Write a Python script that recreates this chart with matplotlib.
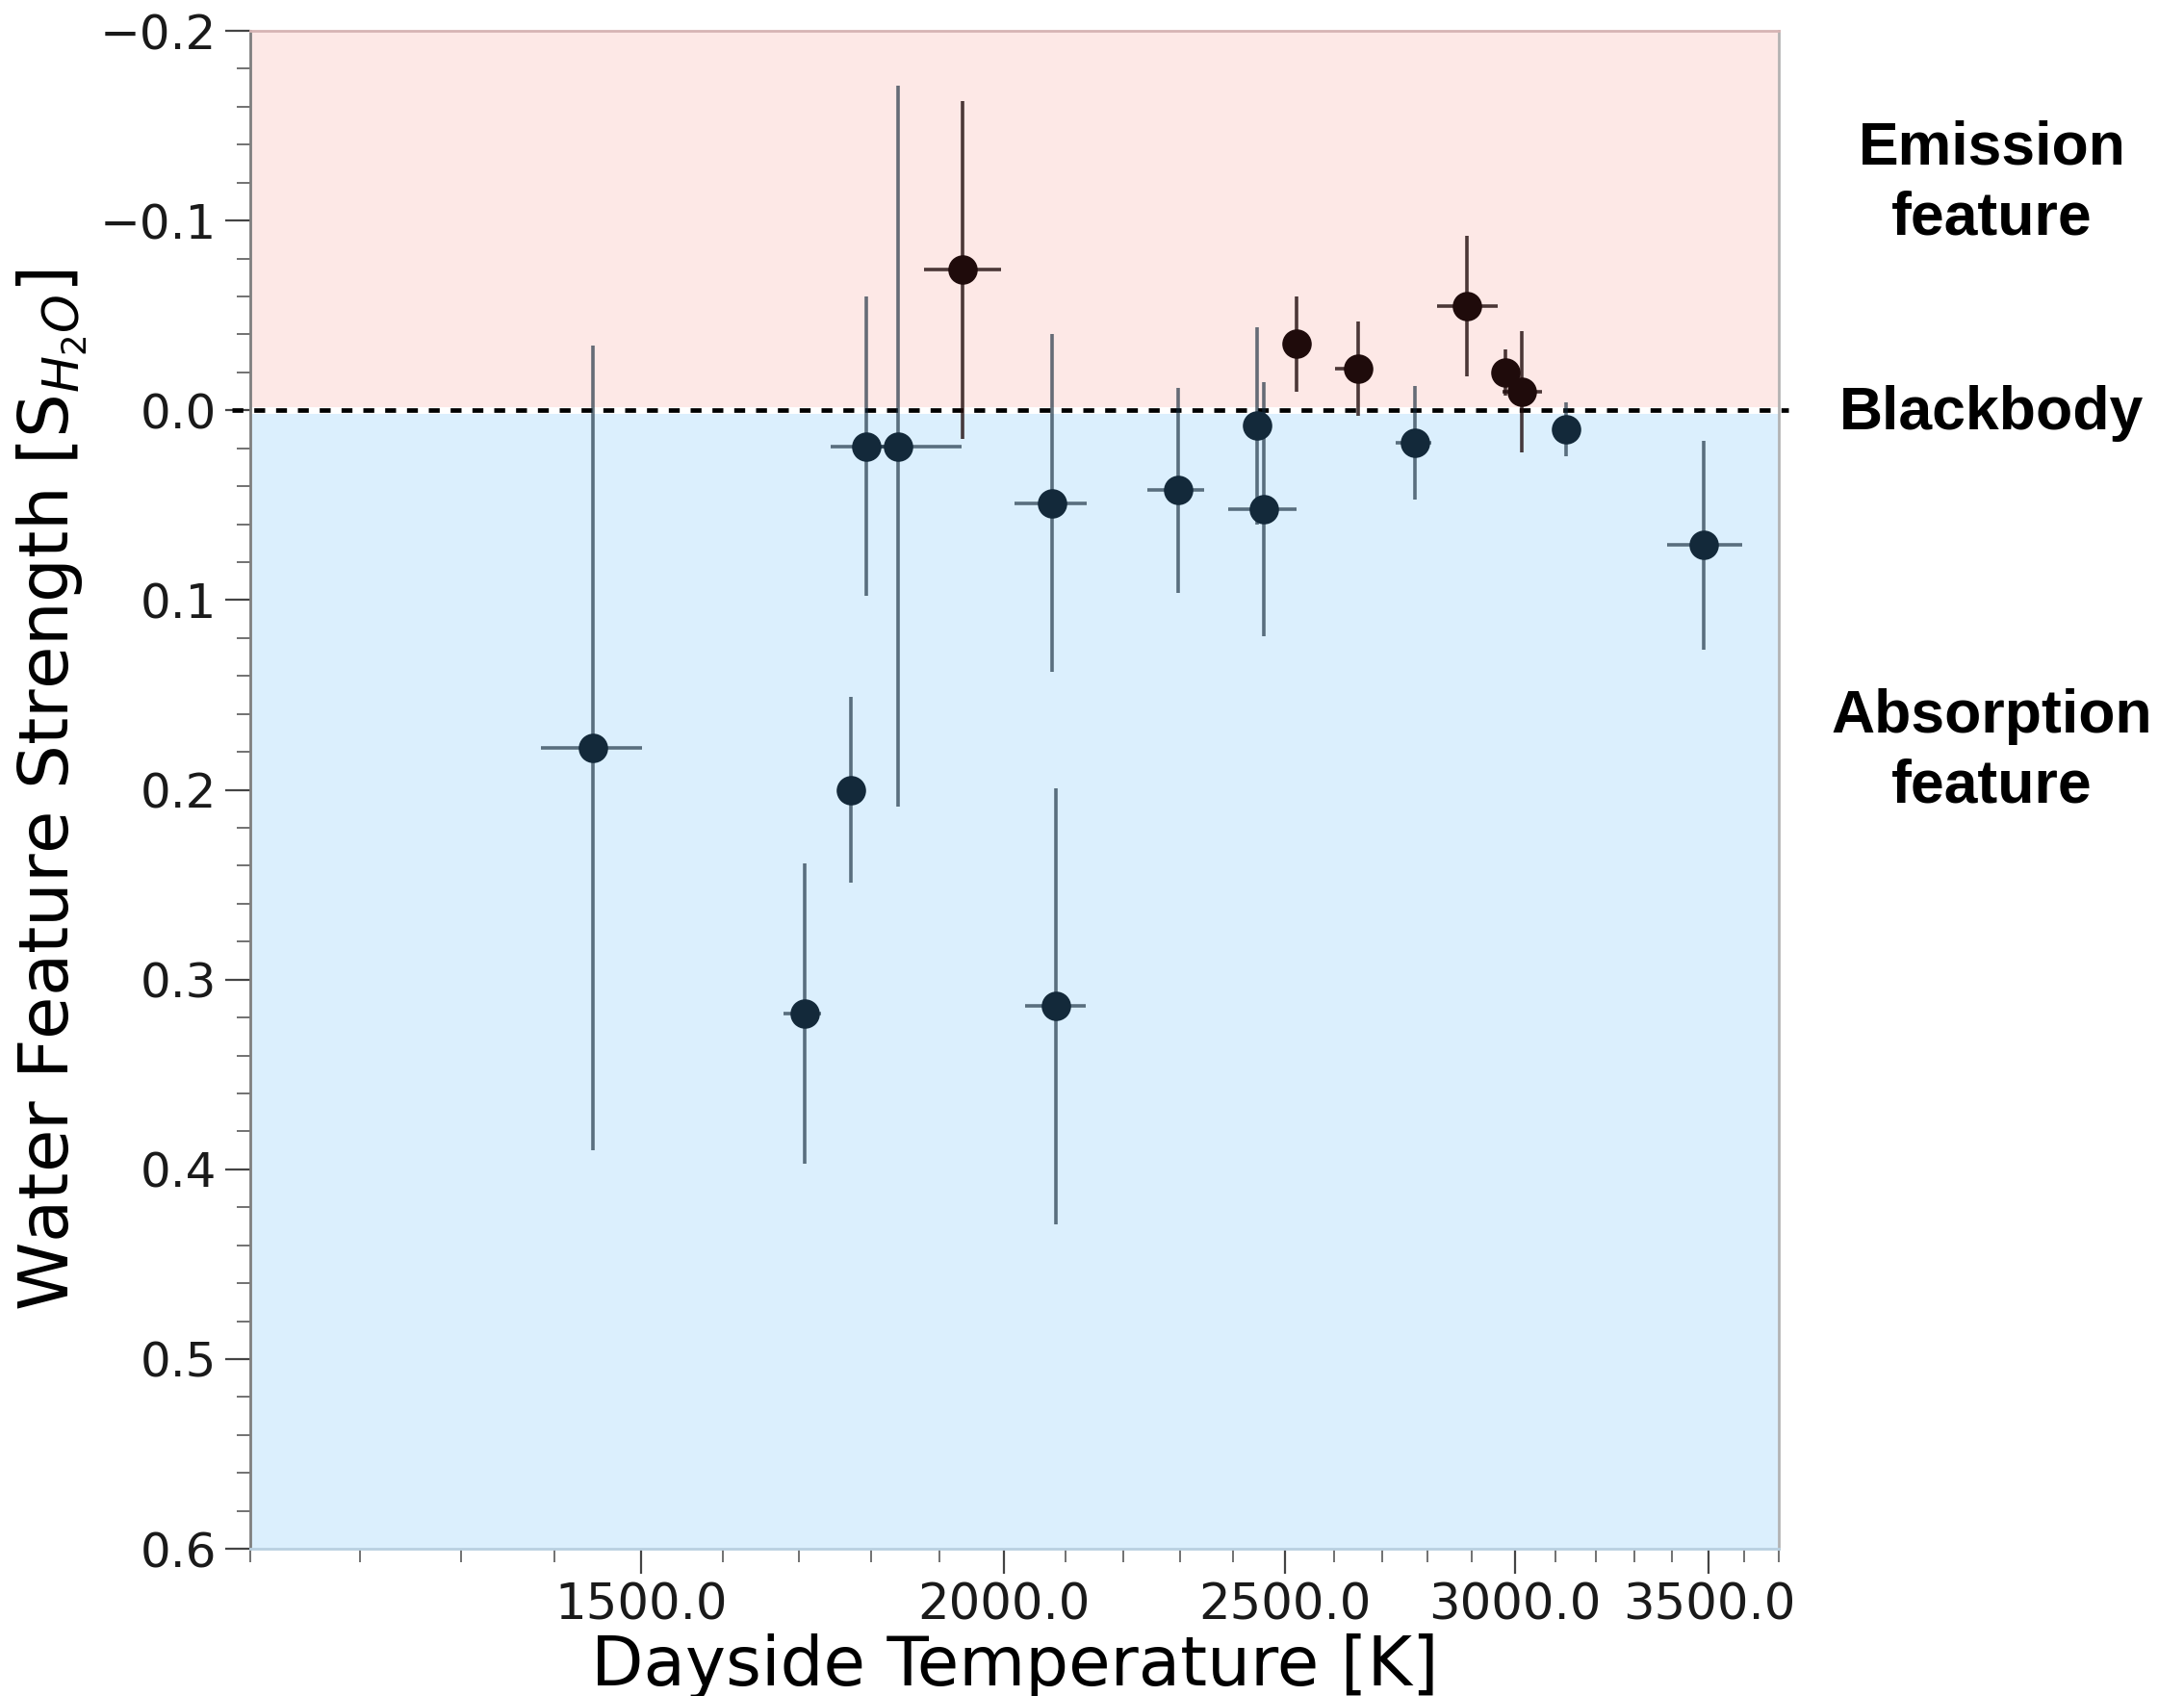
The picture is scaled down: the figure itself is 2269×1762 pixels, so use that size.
import numpy as np
import matplotlib
matplotlib.use("Agg")
import matplotlib.pyplot as plt
from matplotlib.ticker import FixedLocator, FormatStrFormatter, NullFormatter, MultipleLocator

# Datos: temperatura diurna (K) y fuerza del rasgo de agua
# Puntos en absorcion (S > 0)
t_abs = [1444, 1708, 1772, 1794, 1839, 2078, 2085, 2297, 2446, 2459, 2771, 3126, 3486]
s_abs = [0.178, 0.318, 0.200, 0.019, 0.019, 0.049, 0.314, 0.042, 0.008, 0.052, 0.017, 0.010, 0.071]
s_abs_err = [0.212, 0.079, 0.049, 0.079, 0.190, 0.089, 0.115, 0.054, 0.052, 0.067, 0.030, 0.014, 0.055]
t_abs_lo = [59, 28, 17, 50, 39, 61, 50, 55, 10, 68, 41, 0, 100]
t_abs_hi = [57, 22, 18, 36, 95, 59, 50, 48, 10, 65, 37, 0, 109]

# Puntos en emision (S < 0)
t_em = [1936, 2523, 2649, 2888, 2978, 3018]
s_em = [-0.074, -0.035, -0.022, -0.055, -0.020, -0.010]
s_em_err = [0.089, 0.025, 0.025, 0.037, 0.012, 0.032]
t_em_lo = [59, 0, 47, 68, 10, 47]
t_em_hi = [60, 0, 32, 72, 10, 48]

x_major = [1500, 2000, 2500, 3000, 3500]
x_minor = [t for t in range(1100, 3800, 100) if t not in x_major]

c_abs = "#13293a"
c_em = "#1f0b0b"

fig = plt.figure(figsize=(22.69, 17.62), dpi=100)
ax = fig.add_axes([0.1146, 0.0868, 0.6999, 0.895])

ax.set_xscale("log")
ax.set_xlim(1100, 3700)
ax.set_ylim(0.6, -0.2)

# Regiones de fondo
ax.axhspan(-0.2, 0.0, color="#fde8e6", zorder=0, lw=0)
ax.axhspan(0.0, 0.6, color="#dbeffd", zorder=0, lw=0)
ax.axhline(0.0, xmin=-0.012, xmax=1.006, color="white", lw=5, zorder=1, clip_on=False)
ax.axhline(0.0, xmin=-0.012, xmax=1.006, color="black", lw=3.4, ls=(0, (2.4, 2.4)),
           zorder=2, clip_on=False)

ax.errorbar(t_abs, s_abs, yerr=s_abs_err, xerr=[t_abs_lo, t_abs_hi], fmt="o",
            color=c_abs, ms=22, mew=0, ecolor=matplotlib.colors.to_rgba(c_abs, 0.65),
            elinewidth=2.6, capsize=0, zorder=3)
ax.errorbar(t_em, s_em, yerr=s_em_err, xerr=[t_em_lo, t_em_hi], fmt="o",
            color=c_em, ms=22, mew=0, ecolor=matplotlib.colors.to_rgba(c_em, 0.8),
            elinewidth=2.6, capsize=0, zorder=3)

ax.xaxis.set_major_locator(FixedLocator(x_major))
ax.xaxis.set_minor_locator(FixedLocator(x_minor))
ax.xaxis.set_major_formatter(FormatStrFormatter("%.1f"))
ax.xaxis.set_minor_formatter(NullFormatter())
ax.yaxis.set_major_locator(MultipleLocator(0.1))
ax.yaxis.set_minor_locator(MultipleLocator(0.02))

ax.tick_params(axis="both", which="major", length=19, width=1.6, color="#444444",
               labelsize=37, labelcolor="#1a1a1a", pad=6)
ax.tick_params(axis="y", which="major", labelsize=36)
ax.tick_params(axis="both", which="minor", length=10, width=1.3, color="#666666")

ax.spines["left"].set_color("#7f7f7f")
ax.spines["right"].set_color("#b3b3b3")
ax.spines["bottom"].set_color("#b9d0e0")
ax.spines["top"].set_color("#d6b4b4")
for s in ax.spines.values():
    s.set_linewidth(2)

ax.set_xlabel("Dayside Temperature [K]", fontsize=51, labelpad=2)
ax.set_ylabel(r"Water Feature Strength [S$_{H_2O}$]", fontsize=52, labelpad=8)

# Textos del lado derecho
tkw = dict(family="Liberation Sans", fontweight="bold", fontsize=45,
           ha="center", va="center", linespacing=1.3)
fig.text(0.912, 0.892, "Emission\nfeature", **tkw)
fig.text(0.912, 0.756, "Blackbody", **tkw)
fig.text(0.912, 0.557, "Absorption\nfeature", **tkw)

fig.savefig("out.png", dpi=100)
